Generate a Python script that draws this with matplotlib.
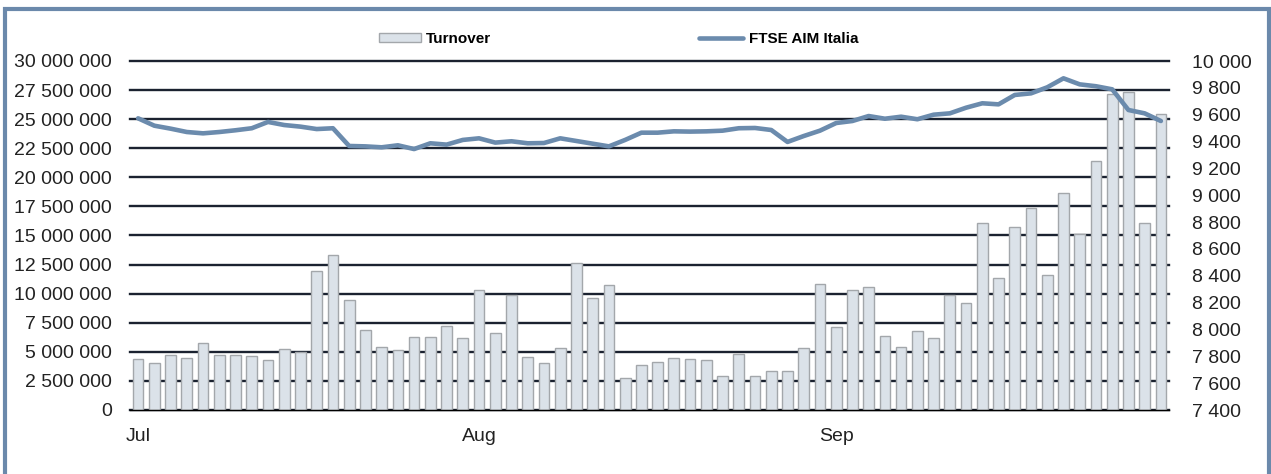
import matplotlib
matplotlib.use("Agg")
import matplotlib.pyplot as plt
from matplotlib.patches import Rectangle
from matplotlib.ticker import FuncFormatter
import numpy as np

plt.rcParams['font.family'] = ['Liberation Sans', 'DejaVu Sans']

# ---- data ----
month_labels = ["Jul", "Aug", "Sep"]
month_positions = [0, 21, 43]

turnover = [
    4.36, 4.01, 4.70, 4.47, 5.73, 4.70, 4.70, 4.64, 4.30, 5.22,
    4.99, 11.92, 13.30, 9.43, 6.85, 5.39, 5.16, 6.30, 6.25, 7.19,
    6.16, 10.34, 6.59, 9.91, 4.53, 4.01, 5.30, 12.61, 9.66, 10.72,
    2.72, 3.84, 4.10, 4.47, 4.36, 4.27, 2.95, 4.79, 2.92, 3.32,
    3.32, 5.30, 10.80, 7.11, 10.29, 10.60, 6.33, 5.39, 6.76, 6.22,
    9.89, 9.17, 16.05, 11.32, 15.70, 17.36, 11.58, 18.63, 15.10, 21.38,
    27.19, 27.31, 16.05, 25.42,
]
turnover = [v * 1e6 for v in turnover]

ftse_aim = [
    9573, 9518, 9496, 9471, 9461, 9471, 9484, 9499, 9546, 9523,
    9511, 9493, 9499, 9367, 9364, 9357, 9372, 9344, 9387, 9377,
    9412, 9424, 9392, 9402, 9387, 9389, 9424, 9404, 9384, 9364,
    9412, 9466, 9466, 9476, 9474, 9476, 9481, 9499, 9501, 9486,
    9397, 9441, 9481, 9538, 9553, 9590, 9570, 9585, 9566, 9600,
    9610, 9652, 9685, 9677, 9747, 9759, 9804, 9871, 9826, 9812,
    9789, 9635, 9610, 9553,
]

left_ticks = list(range(0, 30000001, 2500000))
right_ticks = list(range(7400, 10001, 200))

# ---- styles ----
bar_face = "#dbe2e9"
bar_edge = "#a3a7ab"
line_col = "#6b8bad"
frame_col = "#6b89ab"
grid_col = "#1b2230"
text_col = "#222222"

W, H = 1271, 474
fig = plt.figure(figsize=(W / 100, H / 100), dpi=100)
ax = fig.add_axes([130 / W, 1 - 410 / H, (1169 - 130) / W, (410 - 61) / H])

x = np.arange(len(turnover))
bars = ax.bar(x, turnover, width=0.66, color=bar_face, edgecolor=bar_edge,
              linewidth=1.0, zorder=3)
ax.set_xlim(-0.5, len(turnover) - 0.5)
ax.set_ylim(0, 30000000)
ax.set_yticks(left_ticks)
ax.yaxis.set_major_formatter(FuncFormatter(lambda v, p: f"{int(v):,}".replace(",", " ")))
ax.yaxis.grid(True, color=grid_col, linewidth=1.7, zorder=1)
for gl in ax.get_ygridlines():
    gl.set_clip_on(False)
ax.set_axisbelow(True)
ax.set_xticks(month_positions)
ax.set_xticklabels(month_labels)
for s in ["top", "left", "right"]:
    ax.spines[s].set_visible(False)
ax.spines["bottom"].set_color("black")
ax.spines["bottom"].set_linewidth(1.0)
ax.spines["bottom"].set_zorder(4)
ax.tick_params(axis="y", length=0, pad=13, labelsize=14, labelcolor=text_col)
ax.tick_params(axis="x", length=0, pad=13, labelsize=14, labelcolor=text_col)

ax2 = ax.twinx()
line, = ax2.plot(x, ftse_aim, color=line_col, linewidth=3.3,
                 solid_joinstyle="round", solid_capstyle="round", zorder=5)
ax2.set_ylim(7400, 10000)
ax2.set_yticks(right_ticks)
ax2.yaxis.set_major_formatter(FuncFormatter(lambda v, p: f"{int(v):,}".replace(",", " ")))
for s in ["top", "left", "right", "bottom"]:
    ax2.spines[s].set_visible(False)
ax2.tick_params(axis="y", length=0, pad=16.5, labelsize=14, labelcolor=text_col)

# ---- legends ----
leg_kw = dict(frameon=False, borderpad=0, borderaxespad=0, loc="center left",
              prop={"weight": "bold", "size": 11}, handletextpad=0.35)
fig.legend([bars], ["Turnover"], bbox_to_anchor=(379 / W, 1 - 39 / H),
           handlelength=2.75, handleheight=0.45, **leg_kw)
fig.legend([line], ["FTSE AIM Italia"], bbox_to_anchor=(699 / W, 1 - 39 / H),
           handlelength=2.9, **leg_kw)

# ---- frame ----
fig.add_artist(Rectangle((5 / W, -0.05), (1269 - 5) / W, (1 - 9 / H) + 0.05,
                         transform=fig.transFigure, fill=False,
                         edgecolor=frame_col, linewidth=3.0, clip_on=False))

fig.savefig("out.png", dpi=100)
